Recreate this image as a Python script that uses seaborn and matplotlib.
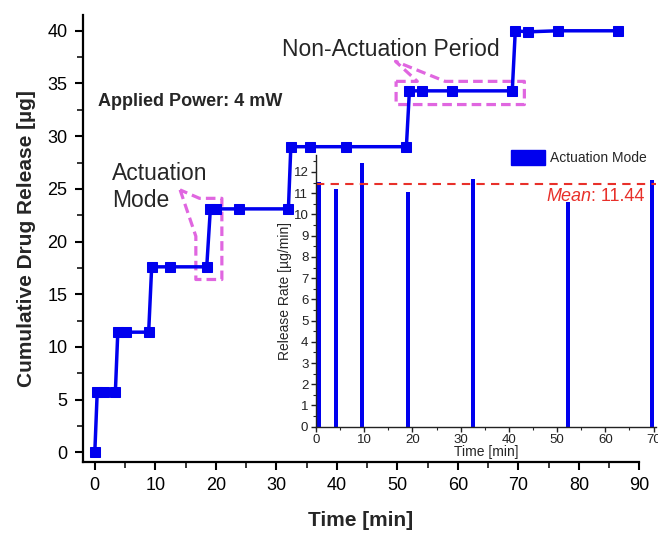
import numpy as np
import pandas as pd
import matplotlib
matplotlib.use("Agg")
import matplotlib.pyplot as plt
from matplotlib.patches import Patch
from matplotlib.ticker import MultipleLocator
import seaborn as sns

# ---- data ----
time_min = [0, 0.4, 1.5, 3.4, 3.8, 5.1, 8.9, 9.4, 12.4, 18.5, 19.1, 20.0, 23.8, 32.0,
            32.4, 35.5, 41.5, 51.5, 52.0, 54.0, 59.1, 69.0, 69.5, 71.6, 76.5, 86.5]
cumulative_ug = [0, 5.76, 5.76, 5.76, 11.4, 11.4, 11.4, 17.6, 17.6, 17.6, 23.1, 23.1, 23.1, 23.1,
                 29.0, 29.0, 29.0, 29.0, 34.3, 34.3, 34.3, 34.3, 40.0, 39.9, 40.0, 40.0]
act_time = [0.55, 4.2, 9.6, 19.1, 32.6, 52.2, 69.7]
act_rate = [11.53, 11.2, 12.4, 11.07, 11.67, 10.58, 11.64]
mean_rate = 11.44

# annotation shapes (data coords of main axes)
act_box_x = [14.1, 16.7, 16.7, 21.0, 21.0, 17.3, 14.1]
act_box_y = [24.9, 20.5, 16.4, 16.4, 24.1, 24.1, 24.9]
non_box_x = [49.8, 53.3, 49.7, 57.9, 71.0, 71.0, 49.8, 49.8]
non_box_y = [35.2, 35.2, 37.1, 35.2, 35.2, 33.0, 33.0, 35.2]

sns.set_theme(style="ticks")
plt.rcParams['font.family'] = ['Liberation Sans', 'DejaVu Sans']

BLUE = "#0000ee"
MAG = "#e066e0"
RED = "#e8302a"

fig = plt.figure(figsize=(6.58, 5.33), dpi=100)
ax = fig.add_axes([0.1257, 0.1332, 0.8459, 0.8387])

df = pd.DataFrame({"t": time_min, "c": cumulative_ug})
sns.lineplot(data=df, x="t", y="c", ax=ax, sort=False, estimator=None, color=BLUE,
             lw=2.5, marker="s", markersize=7, markeredgecolor=BLUE, markerfacecolor=BLUE)

ax.set_xlim(-2, 90)
ax.set_ylim(-0.92, 41.5)
ax.xaxis.set_major_locator(MultipleLocator(10))
ax.xaxis.set_minor_locator(MultipleLocator(5))
ax.yaxis.set_major_locator(MultipleLocator(5))
ax.yaxis.set_minor_locator(MultipleLocator(2.5))
ax.tick_params(which="major", length=6, width=1.5, labelsize=13, pad=5, direction="out", colors="black")
ax.tick_params(which="minor", length=4, width=1.3, direction="out")
for s in ["top", "right"]:
    ax.spines[s].set_visible(False)
for s in ["left", "bottom"]:
    ax.spines[s].set_linewidth(1.6)
    ax.spines[s].set_color("black")
ax.set_xlabel("Time [min]", fontsize=15, fontweight="bold", labelpad=12)
ax.set_ylabel("Cumulative Drug Release [µg]", fontsize=15, fontweight="bold", labelpad=8)

# annotations
ax.plot(act_box_x, act_box_y, ls=(0, (3, 1.6)), color=MAG, lw=2.3, zorder=1)
ax.plot(non_box_x, non_box_y, ls=(0, (3, 1.6)), color=MAG, lw=2.3, zorder=1)
ax.text(0.5, 33.3, "Applied Power: 4 mW", fontsize=13, fontweight="bold", va="center", ha="left")
ax.text(2.9, 26.5, "Actuation", fontsize=16.5, va="center", ha="left")
ax.text(2.9, 23.9, "Mode", fontsize=16.5, va="center", ha="left")
ax.text(31.0, 38.2, "Non-Actuation Period", fontsize=16.5, va="center", ha="left")

# ---- inset ----
ins = fig.add_axes([0.4802, 0.1994, 0.5167, 0.5098])
ins.patch.set_alpha(0)
df2 = pd.DataFrame({"t": act_time, "r": act_rate})
sns.barplot(data=df2, x="t", y="r", ax=ins, native_scale=True, color=BLUE, width=0.24,
            saturation=1, edgecolor=BLUE, linewidth=0)
ins.axhline(mean_rate, color=RED, ls=(0, (4, 3)), lw=1.5)
ins.set_xlim(0, 70.5)
ins.set_ylim(0, 12.8)
ins.xaxis.set_major_locator(MultipleLocator(10))
ins.xaxis.set_minor_locator(MultipleLocator(5))
ins.yaxis.set_major_locator(MultipleLocator(1))
ins.yaxis.set_minor_locator(MultipleLocator(0.5))
ins.tick_params(which="major", length=3.5, width=1, labelsize=9.5, pad=2, colors="#222222")
ins.tick_params(which="minor", length=2, width=0.8)
for s in ["top", "right"]:
    ins.spines[s].set_visible(False)
for s in ["left", "bottom"]:
    ins.spines[s].set_linewidth(1.0)
    ins.spines[s].set_color("#222222")
ins.set_xlabel("Time [min]", fontsize=10, labelpad=-1)
ins.set_ylabel("Release Rate [µg/min]", fontsize=10, labelpad=1)
ins.legend(handles=[Patch(color=BLUE, label="Actuation Mode")], loc="upper right",
           frameon=False, fontsize=10, handlelength=2.4, handleheight=1.3,
           bbox_to_anchor=(0.99, 1.04), borderaxespad=0, handletextpad=0.4)
ins.text(57.1, 10.85, "Mean", color=RED, fontsize=13, style="italic", ha="right", va="center")
ins.text(57.1, 10.85, ": 11.44", color=RED, fontsize=13, ha="left", va="center")

fig.savefig("out.png", dpi=100)
